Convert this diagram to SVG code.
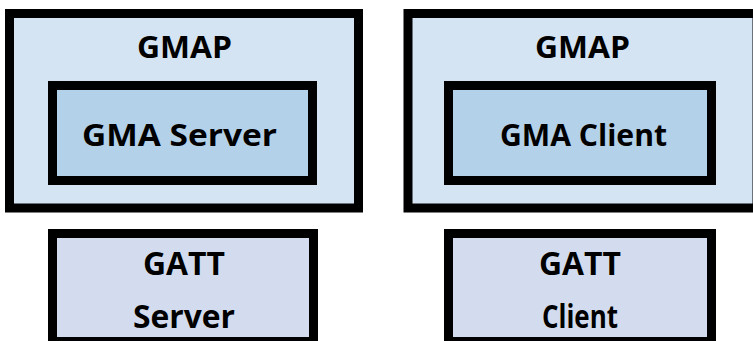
<svg xmlns="http://www.w3.org/2000/svg" width="753" height="341" viewBox="0 0 753 341">
<style>
.box{stroke:#000;stroke-width:9}
.outer{fill:#D5E4F3}
.inner{fill:#B4D1EA}
.gatt{fill:#D3DCEE}
text{font-family:"Open Sans","Liberation Sans",sans-serif;font-weight:700;fill:#000;text-anchor:middle}
.t32{font-size:31px}
.t34{font-size:33px}
</style>
<rect width="753" height="341" fill="#fff"/>
<g id="gmap-left">
<rect class="box outer" x="9.5" y="13.5" width="349" height="194.5"/>
<text class="t32" x="184.5" y="58" textLength="95" lengthAdjust="spacingAndGlyphs">GMAP</text>
</g>
<g id="gma-server">
<rect class="box inner" x="52.5" y="85.5" width="260" height="95"/>
<text class="t32" x="179.5" y="146" textLength="195" lengthAdjust="spacingAndGlyphs">GMA Server</text>
</g>
<g id="gmap-right">
<rect class="box outer" x="408" y="13.5" width="349" height="194.5"/>
<text class="t32" x="582.5" y="58" textLength="95" lengthAdjust="spacingAndGlyphs">GMAP</text>
</g>
<g id="gma-client">
<rect class="box inner" x="448.5" y="85.5" width="263" height="95"/>
<text class="t32" x="583.5" y="146" textLength="167" lengthAdjust="spacingAndGlyphs">GMA Client</text>
</g>
<g id="gatt-server">
<rect class="box gatt" x="52.5" y="233.5" width="261" height="108"/>
<text class="t34" x="184" y="275" textLength="82" lengthAdjust="spacingAndGlyphs">GATT</text>
<text class="t34" x="184" y="328" textLength="102" lengthAdjust="spacingAndGlyphs">Server</text>
</g>
<g id="gatt-client">
<rect class="box gatt" x="448.5" y="233.5" width="263" height="108"/>
<text class="t34" x="580" y="275" textLength="82" lengthAdjust="spacingAndGlyphs">GATT</text>
<text class="t34" x="580" y="328" textLength="76" lengthAdjust="spacingAndGlyphs">Client</text>
</g>
<g id="connectors"/>
</svg>
